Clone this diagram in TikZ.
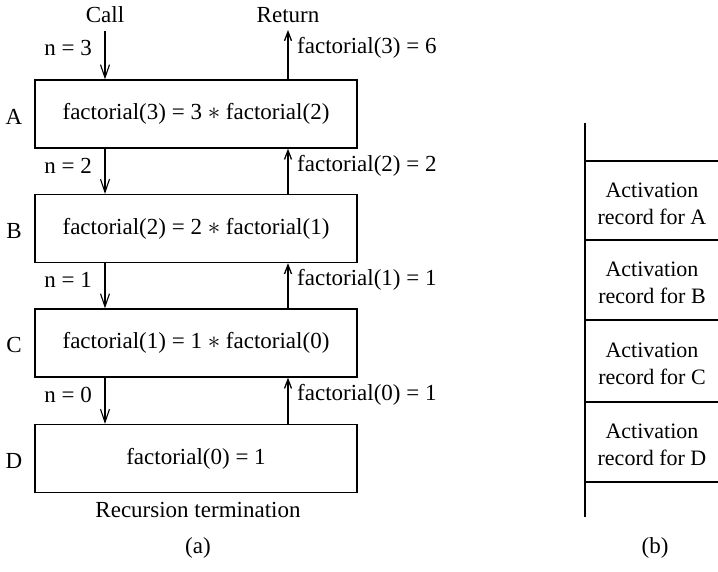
\documentclass[tikz,border=0pt]{standalone}
\usepackage{fontspec}
\setmainfont{Liberation Serif}
\usetikzlibrary{arrows.meta}
\begin{document}
\begin{tikzpicture}[x=1pt,y=-1pt,
  every node/.style={font=\fontsize{23}{27}\selectfont, inner sep=0pt},
  fbox/.style={draw, line width=1.3pt, minimum width=322pt, minimum height=68pt, anchor=center},
  callarr/.style={line width=1.1pt, -{Straight Barb[length=13pt,width=9pt,line width=1.1pt]}},
  retarr/.style={line width=1.6pt, -{Straight Barb[length=9pt,width=7pt,line width=1.3pt]}},
  lab/.style={anchor=center},
  nlab/.style={anchor=east},
  flab/.style={anchor=west},
  rec/.style={align=center, font=\fontsize{22}{27}\selectfont},
  stackline/.style={line width=1.2pt}
]
\useasboundingbox (0,0) rectangle (718,571);

% boxes
\node[fbox] (A) at (196,114) {factorial(3) = 3 $*$ factorial(2)};
\node[fbox] (B) at (196,228.5) {factorial(2) = 2 $*$ factorial(1)};
\node[fbox] (C) at (196,343) {factorial(1) = 1 $*$ factorial(0)};
\node[fbox] (D) at (196,458.5) {factorial(0) = 1};

\node[lab] (lA) at (14,117) {A};
\node[lab] (lB) at (14,231) {B};
\node[lab] (lC) at (14,345) {C};
\node[lab] (lD) at (14,461) {D};

% call / return
\node[lab] (call) at (105,15) {Call};
\node[lab] (ret) at (288,15) {Return};
\coordinate (ctop) at (105,31);
\coordinate (rtop) at (288,30);
\coordinate (cx) at (105,0);
\coordinate (rx) at (288,0);

\draw[callarr] (ctop) -- (A.north -| cx);
\draw[retarr] (A.north -| rx) -- (rtop);
\draw[callarr] (A.south -| cx) -- (B.north -| cx);
\draw[retarr] (B.north -| rx) -- (A.south -| rx);
\draw[callarr] (B.south -| cx) -- (C.north -| cx);
\draw[retarr] (C.north -| rx) -- (B.south -| rx);
\draw[callarr] (C.south -| cx) -- (D.north -| cx);
\draw[retarr] (D.north -| rx) -- (C.south -| rx);

\node[nlab] (n3) at (92,48) {n = 3};
\node[nlab] (n2) at (92,166) {n = 2};
\node[nlab] (n1) at (92,280) {n = 1};
\node[nlab] (n0) at (92,395) {n = 0};

\node[flab] (f3) at (297,48) {factorial(3) = 6};
\node[flab] (f2) at (297,166) {factorial(2) = 2};
\node[flab] (f1) at (297,280) {factorial(1) = 1};
\node[flab] (f0) at (297,395) {factorial(0) = 1};

\node[lab] (term) at (198,510) {Recursion termination};
\node[lab] (capa) at (198,548) {(a)};
\node[lab] (capb) at (655,548) {(b)};

% stack
\draw[stackline] (585,123) -- (585,517);
\foreach \yy in {161,240,320,402,482} {
  \draw[stackline] (585,\yy) -- (718,\yy);
}
\node[rec] (rA) at (652,204) {Activation\\record for A};
\node[rec] (rB) at (652,283) {Activation\\record for B};
\node[rec] (rC) at (652,364) {Activation\\record for C};
\node[rec] (rD) at (652,445) {Activation\\record for D};
\end{tikzpicture}
\end{document}
